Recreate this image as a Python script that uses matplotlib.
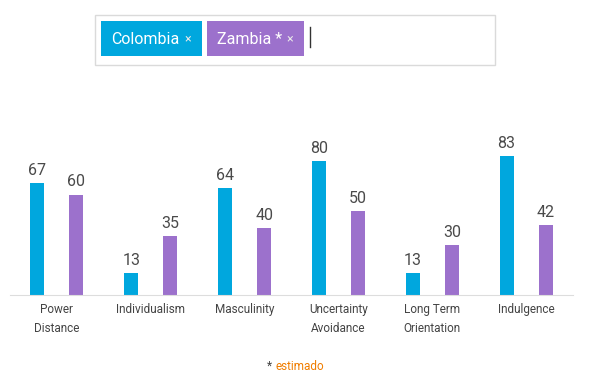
import matplotlib.pyplot as plt
from matplotlib.patches import Rectangle
import numpy as np

plt.rcParams['font.family'] = ['Roboto', 'DejaVu Sans']

categories = ['Power\nDistance', 'Individualism', 'Masculinity',
              'Uncertainty\nAvoidance', 'Long Term\nOrientation', 'Indulgence']
colombia = [67, 13, 64, 80, 13, 83]
zambia = [60, 35, 40, 50, 30, 42]
series_names = ['Colombia', 'Zambia *']
blue = '#00a7de'
purple = '#9c71cc'

W, H = 592, 380
fig = plt.figure(figsize=(W / 100, H / 100), dpi=100)

# plot area in pixels: x 10..573, baseline at y=295 (from top)
ax = fig.add_axes([10 / W, (H - 295) / H, 563 / W, 167.5 / H])
x = np.arange(len(categories))
off, bw = 0.208, 0.15
b1 = ax.bar(x - off, colombia, bw, color=blue)
b2 = ax.bar(x + off, zambia, bw, color=purple)
for bars, vals in ((b1, colombia), (b2, zambia)):
    for b, v in zip(bars, vals):
        ax.text(b.get_x() + b.get_width() / 2, v + 3, str(v), ha='center', va='bottom',
                fontsize=11.5, color='#4a4a4a')
ax.set_xlim(-0.5, 5.5)
ax.set_ylim(0, 100)
ax.set_yticks([])
ax.set_xticks(x)
ax.set_xticklabels(categories, fontsize=8.5, color='#444444', linespacing=1.55)
ax.tick_params(axis='x', length=0, pad=6)
for s in ['top', 'left', 'right']:
    ax.spines[s].set_visible(False)
ax.spines['bottom'].set_color('#dddddd')
ax.set_facecolor('none')

# legend / selector box at top
def px(x0, y0, w, h):
    return (x0 / W, 1 - (y0 + h) / H), w / W, h / H

xy, w, h = px(95, 15, 400, 50)
fig.patches.append(Rectangle(xy, w, h, transform=fig.transFigure, fill=False,
                             edgecolor='#dadada', linewidth=1.0))
chips = [(101, 101, blue), (207, 97, purple)]
for (cx, cw, col), name in zip(chips, series_names):
    xy, w, h = px(cx, 21, cw, 35)
    fig.patches.append(Rectangle(xy, w, h, transform=fig.transFigure,
                                 facecolor=col, edgecolor='none'))
    fig.text((cx + 10) / W, 1 - 39 / H, name, color='white', fontsize=11.5,
             va='center', ha='left')
    fig.text((cx + cw - 14) / W, 1 - 38.5 / H, '×', color='#e8e8e8', fontsize=9,
             va='center', ha='center')
fig.lines.append(plt.Line2D([310 / W, 310 / W], [1 - 27 / H, 1 - 47 / H],
                            transform=fig.transFigure, color='#333333', linewidth=1))

fig.text(269 / W, 1 - 366 / H, '*', color='#444444', fontsize=8.5, va='center', ha='center')
fig.text(275 / W, 1 - 366 / H, 'estimado', color='#f07d00', fontsize=8.5, va='center', ha='left')

fig.savefig('out.png', dpi=100)
